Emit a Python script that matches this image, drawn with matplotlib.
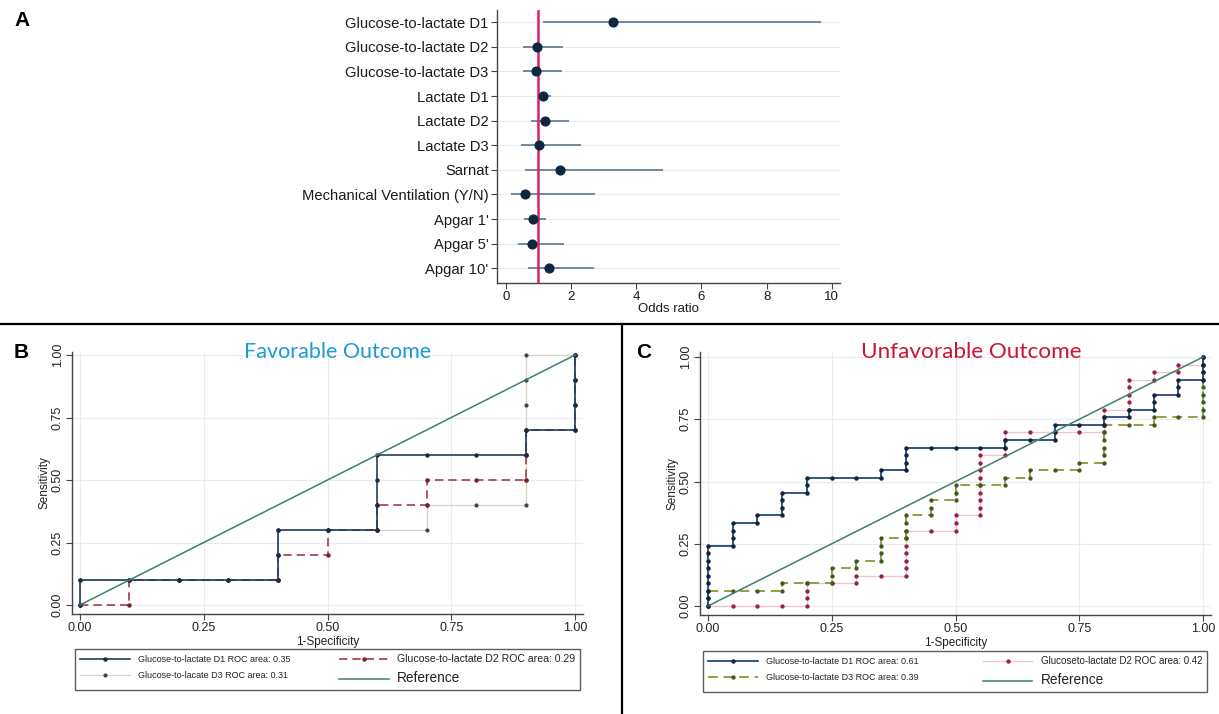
import matplotlib
matplotlib.use("Agg")
import matplotlib.pyplot as plt
from matplotlib.lines import Line2D
import numpy as np

plt.rcParams['font.family'] = ['Liberation Sans', 'DejaVu Sans']

# ---------------- Panel A: odds ratios ----------------
or_labels = ["Glucose-to-lactate D1", "Glucose-to-lactate D2", "Glucose-to-lactate D3",
             "Lactate D1", "Lactate D2", "Lactate D3", "Sarnat",
             "Mechanical Ventilation (Y/N)", "Apgar 1'", "Apgar 5'", "Apgar 10'"]
or_est = [3.28, 0.95, 0.94, 1.15, 1.21, 1.03, 1.67, 0.58, 0.82, 0.81, 1.33]
or_lo = [1.15, 0.54, 0.54, 1.00, 0.77, 0.46, 0.59, 0.15, 0.57, 0.38, 0.68]
or_hi = [9.67, 1.74, 1.72, 1.39, 1.93, 2.32, 4.83, 2.75, 1.23, 1.79, 2.70]
or_xticks = [0, 2, 4, 6, 8, 10]

# ---------------- Panel B: favorable outcome ROC (10 neg / 10 pos) ----------------
b_n_neg, b_n_pos = 10, 10
b_d1_fp = [0, 0, 1, 2, 3, 4, 4, 4, 5, 6, 6, 6, 6, 7, 8, 9, 9, 10, 10, 10, 10]
b_d1_tp = [0, 1, 1, 1, 1, 1, 2, 3, 3, 3, 4, 5, 6, 6, 6, 6, 7, 7, 8, 9, 10]
b_d2_fp = [0, 1, 1, 2, 3, 4, 4, 5, 5, 6, 6, 7, 7, 8, 9, 9, 9, 10, 10, 10, 10]
b_d2_tp = [0, 0, 1, 1, 1, 1, 2, 2, 3, 3, 4, 4, 5, 5, 5, 6, 7, 7, 8, 9, 10]
b_d3_fp = [0, 0, 1, 2, 3, 4, 4, 4, 5, 6, 7, 7, 8, 9, 9, 9, 9, 9, 9, 9, 10]
b_d3_tp = [0, 1, 1, 1, 1, 1, 2, 3, 3, 3, 3, 4, 4, 4, 5, 6, 7, 8, 9, 10, 10]
b_labels = ["Glucose-to-lactate D1 ROC area: 0.35", "Glucose-to-lactate D2 ROC area: 0.29",
            "Glucose-to-lacate D3 ROC area: 0.31", "Reference"]

# ---------------- Panel C: unfavorable outcome ROC (20 neg / 33 pos) ----------------
c_n_neg, c_n_pos = 20, 33
c_d1_fp = [0, 0, 0, 0, 0, 0, 0, 0, 0, 1, 1, 1, 1, 2, 2, 3, 3, 3, 3, 4, 4, 4, 5, 6, 7, 7,
           8, 8, 8, 8, 9, 10, 11, 12, 12, 13, 14, 14, 14, 15, 16, 16, 17, 17, 18, 18, 18,
           19, 19, 19, 20, 20, 20, 20]
c_d1_tp = [0, 1, 2, 3, 4, 5, 6, 7, 8, 8, 9, 10, 11, 11, 12, 12, 13, 14, 15, 15, 16, 17, 17,
           17, 17, 18, 18, 19, 20, 21, 21, 21, 21, 21, 22, 22, 22, 23, 24, 24, 24, 25, 25,
           26, 26, 27, 28, 28, 29, 30, 30, 31, 32, 33]
c_d2_fp = [0, 1, 2, 3, 4, 4, 4, 4, 5, 6, 6, 7, 8, 8, 8, 8, 8, 8, 8, 9, 10, 10, 10, 11, 11,
           11, 11, 11, 11, 11, 11, 11, 12, 12, 12, 12, 13, 14, 15, 16, 16, 16, 16, 17, 17,
           17, 17, 17, 18, 18, 19, 19, 20, 20]
c_d2_tp = [0, 0, 0, 0, 0, 1, 2, 3, 3, 3, 4, 4, 4, 5, 6, 7, 8, 9, 10, 10, 10, 11, 12, 12, 13,
           14, 15, 16, 17, 18, 19, 20, 20, 21, 22, 23, 23, 23, 23, 23, 24, 25, 26, 26, 27,
           28, 29, 30, 30, 31, 31, 32, 32, 33]
c_d3_fp = [0, 0, 0, 1, 2, 3, 3, 4, 5, 5, 5, 6, 6, 7, 7, 7, 7, 8, 8, 8, 8, 9, 9, 9, 10, 10,
           10, 11, 12, 12, 13, 13, 14, 15, 15, 16, 16, 16, 16, 16, 16, 17, 18, 18, 19, 20,
           20, 20, 20, 20, 20, 20, 20, 20]
c_d3_tp = [0, 1, 2, 2, 2, 2, 3, 3, 3, 4, 5, 5, 6, 6, 7, 8, 9, 9, 10, 11, 12, 12, 13, 14, 14,
           15, 16, 16, 16, 17, 17, 18, 18, 18, 19, 19, 20, 21, 22, 23, 24, 24, 24, 25, 25,
           25, 26, 27, 28, 29, 30, 31, 32, 33]
c_labels = ["Glucose-to-lactate D1 ROC area: 0.61", "Glucoseto-lactate D2 ROC area: 0.42",
            "Glucose-to-lactate D3 ROC area: 0.39", "Reference"]

roc_ticks = [0.0, 0.25, 0.5, 0.75, 1.0]
roc_ticklabels = ["0.00", "0.25", "0.50", "0.75", "1.00"]

W, H = 1219, 714
fig = plt.figure(figsize=(W / 100, H / 100), dpi=100)


def axpx(l, t, r, b):
    return fig.add_axes([l / W, 1 - b / H, (r - l) / W, (b - t) / H])


AXC = '#444444'

# ---------- Panel A ----------
axA = axpx(497, 10, 840, 283)
ypos = np.arange(len(or_labels))
for sp in ['top', 'right']:
    axA.spines[sp].set_visible(False)
for sp in ['left', 'bottom']:
    axA.spines[sp].set_color(AXC)
    axA.spines[sp].set_linewidth(1.0)
axA.set_xlim(-0.27, 10.25)
axA.set_ylim(10.6, -0.5)
axA.set_yticks(ypos)
axA.set_yticklabels(or_labels, fontsize=10.6, color='#1a1a1a')
axA.set_xticks(or_xticks)
axA.set_xticklabels([str(v) for v in or_xticks], fontsize=9.5, color='#1a1a1a')
axA.tick_params(axis='both', length=4, width=0.8, color=AXC, pad=2)
axA.grid(axis='y', color='#e8ecef', lw=0.8, zorder=0)
axA.set_axisbelow(True)
axA.hlines(ypos, or_lo, or_hi, color='#5a7692', lw=1.2, zorder=2)
axA.axvline(1, color='#d8226a', lw=1.8, zorder=3)
axA.plot(or_est, ypos, 'o', color='#0d2742', ms=6.3, zorder=4, lw=0)
axA.set_xlabel("Odds ratio", fontsize=9.5, color='#1a1a1a', labelpad=0)


def roc_axes(ax):
    for sp in ['top', 'right']:
        ax.spines[sp].set_visible(False)
    for sp in ['left', 'bottom']:
        ax.spines[sp].set_color(AXC)
        ax.spines[sp].set_linewidth(1.0)
    ax.set_xticks(roc_ticks)
    ax.set_xticklabels(roc_ticklabels, fontsize=9, color='#222222')
    ax.set_yticks(roc_ticks)
    ax.set_yticklabels(roc_ticklabels, fontsize=9, color='#222222', rotation=90, va='center')
    ax.tick_params(axis='both', length=4, width=0.8, color=AXC, pad=2)
    ax.grid(True, color='#e8ecef', lw=0.8)
    ax.set_axisbelow(True)
    ax.set_xlabel("1-Specificity", fontsize=8.5, color='#222222', labelpad=1)
    ax.set_ylabel("Sensitivity", fontsize=8.5, color='#222222', labelpad=1)


REFC = '#3d7f70'

# ---------- Panel B ----------
axB = axpx(72, 352, 583, 614)
axB.set_xlim(-0.016, 1.016)
axB.set_ylim(-0.036, 1.012)
roc_axes(axB)
bx = lambda v: np.array(v) / b_n_neg
by = lambda v: np.array(v) / b_n_pos
lB3, = axB.plot(bx(b_d3_fp), by(b_d3_tp), color='#d9d2c3', lw=0.9, marker='o', ms=2.0,
                mfc='#444444', mec='#444444', zorder=3)
lB2, = axB.plot(bx(b_d2_fp), by(b_d2_tp), color='#a33a4a', lw=1.2, ls=(0, (5, 3)), marker='o',
                ms=2.2, mfc='#7a1f2e', mec='#7a1f2e', zorder=4)
lB1, = axB.plot(bx(b_d1_fp), by(b_d1_tp), color='#1d3e5e', lw=1.2, marker='o', ms=2.2,
                mfc='#1d2b3a', mec='#1d2b3a', zorder=5)
lBr, = axB.plot(roc_ticks[::4], roc_ticks[::4], color=REFC, lw=1.1, zorder=6)
axB.text(0.52, 1.0, "Favorable Outcome", transform=axB.transAxes, ha='center', va='center',
         fontsize=15.5, color='#1e9bd6', family=['Lato', 'DejaVu Sans'])

# ---------- Panel C ----------
axC = axpx(700, 352, 1211, 615)
axC.set_xlim(-0.016, 1.016)
axC.set_ylim(-0.036, 1.02)
roc_axes(axC)
cx = lambda v: np.array(v) / c_n_neg
cy = lambda v: np.array(v) / c_n_pos
lC2, = axC.plot(cx(c_d2_fp), cy(c_d2_tp), color='#eec3cc', lw=0.9, marker='o', ms=2.1,
                mfc='#9a1d45', mec='#9a1d45', zorder=3)
lC3, = axC.plot(cx(c_d3_fp), cy(c_d3_tp), color='#8f9f45', lw=1.4, ls=(0, (5, 3)), marker='o',
                ms=2.1, mfc='#3f5a1a', mec='#3f5a1a', zorder=4)
lC1, = axC.plot(cx(c_d1_fp), cy(c_d1_tp), color='#224a78', lw=1.3, marker='o', ms=2.2,
                mfc='#14233a', mec='#14233a', zorder=5)
lCr, = axC.plot(roc_ticks[::4], roc_ticks[::4], color=REFC, lw=1.1, zorder=6)
axC.text(0.53, 1.0, "Unfavorable Outcome", transform=axC.transAxes, ha='center', va='center',
         fontsize=16.2, color='#cc1430', family=['Lato', 'DejaVu Sans'])


def make_legend(handles, labels, l, t, r, b, col2_size):
    order = [0, 2, 1, 3]
    leg = fig.legend([handles[i] for i in order], [labels[i] for i in order], loc='center',
                     bbox_to_anchor=(l / W, 1 - b / H, (r - l) / W, (b - t) / H), mode='expand',
                     ncol=2, frameon=True, fancybox=False, fontsize=6.5, handlelength=5.5,
                     numpoints=1, borderaxespad=0, labelspacing=0.7, borderpad=0.55,
                     handletextpad=0.9, columnspacing=1.5)
    leg.get_frame().set_edgecolor('#333333')
    leg.get_frame().set_linewidth(1.0)
    for txt in leg.get_texts():
        txt.set_color('#222222')
        if txt.get_text() == "Reference":
            txt.set_fontsize(9.8)
        elif txt.get_text() == labels[1]:
            txt.set_fontsize(col2_size)
    return leg


make_legend([lB1, lB2, lB3, lBr], b_labels, 75, 649, 580, 690, 7.6)
make_legend([lC1, lC2, lC3, lCr], c_labels, 703, 651, 1207, 692, 7.0)

# ---------- Dividers and panel letters ----------
fig.add_artist(Line2D([0, 1], [1 - 324 / H, 1 - 324 / H], color='black', lw=1.6))
fig.add_artist(Line2D([621.5 / W, 621.5 / W], [0, 1 - 324 / H], color='black', lw=1.6))
fig.text(14 / W, 1 - 21 / H, "A", fontsize=15, fontweight='bold', ha='left', va='center')
fig.text(14 / W, 1 - 352 / H, "B", fontsize=15, fontweight='bold', ha='left', va='center')
fig.text(636 / W, 1 - 352 / H, "C", fontsize=15, fontweight='bold', ha='left', va='center')

fig.savefig("out.png", dpi=100)
